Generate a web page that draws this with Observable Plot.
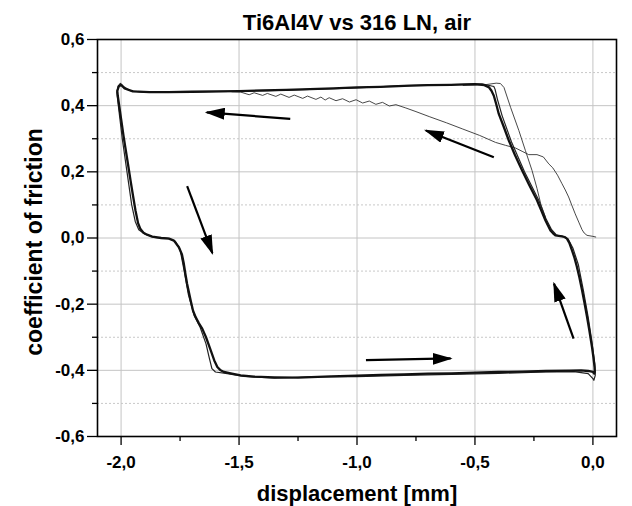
<!DOCTYPE html>
<html><head><meta charset="utf-8">
<script src="https://cdn.jsdelivr.net/npm/d3@7"></script>
<script src="https://cdn.jsdelivr.net/npm/@observablehq/plot@0.6"></script>
<style>body{margin:0;background:#fff}</style>
</head><body><div id="chart"></div>
<script>
const title = "Ti6Al4V vs 316 LN, air";
const xLabel = "displacement [mm]";
const yLabel = "coefficient of friction";
const xMajorTicks = [-2.0, -1.5, -1.0, -0.5, 0.0];
const xMinorTicks = [-1.75, -1.25, -0.75, -0.25];
const yMajorTicks = [-0.6, -0.4, -0.2, 0.0, 0.2, 0.4, 0.6];
const yMinorTicks = [-0.5, -0.3, -0.1, 0.1, 0.3, 0.5];
const yGridMajor = [-0.4, -0.2, 0.0, 0.2, 0.4];

// main hysteresis cycle (top → left → bottom → right)
const cycleMain = [
  [-0.44, 0.455], [-0.46, 0.462], [-0.5, 0.465], [-0.6, 0.463], [-0.7, 0.462], [-0.8, 0.46], [-0.9, 0.457],
  [-1.0, 0.455], [-1.1, 0.452], [-1.2, 0.45], [-1.3, 0.448], [-1.4, 0.446], [-1.5, 0.444], [-1.6, 0.443],
  [-1.7, 0.442], [-1.8, 0.441], [-1.88, 0.441], [-1.95, 0.443], [-1.985, 0.452], [-2.0, 0.463], [-2.01, 0.458], [-2.016, 0.445],
  [-2.014, 0.43], [-2.008, 0.4], [-2.0, 0.36], [-1.99, 0.31], [-1.982, 0.274], [-1.97, 0.22], [-1.96, 0.174],
  [-1.95, 0.13], [-1.939, 0.083], [-1.928, 0.045], [-1.918, 0.027], [-1.905, 0.016], [-1.89, 0.01], [-1.868, 0.004],
  [-1.83, 0.0], [-1.797, -0.002], [-1.776, -0.008], [-1.755, -0.028], [-1.742, -0.05], [-1.734, -0.078], [-1.727, -0.11],
  [-1.72, -0.139], [-1.705, -0.189], [-1.695, -0.22], [-1.684, -0.239], [-1.67, -0.258], [-1.656, -0.274], [-1.64, -0.3],
  [-1.62, -0.34], [-1.605, -0.37], [-1.592, -0.39], [-1.578, -0.4], [-1.564, -0.405], [-1.53, -0.41], [-1.493, -0.415],
  [-1.436, -0.419], [-1.35, -0.421], [-1.25, -0.422], [-1.11, -0.418], [-1.0, -0.416], [-0.9, -0.414], [-0.8, -0.412],
  [-0.7, -0.41], [-0.6, -0.409], [-0.5, -0.407], [-0.4, -0.405], [-0.3, -0.404], [-0.2, -0.402], [-0.1, -0.401],
  [-0.05, -0.4], [-0.02, -0.402], [0.0, -0.405], [0.006, -0.41], [0.008, -0.405],
  [0.007, -0.39], [0.002, -0.36], [-0.004, -0.329], [-0.015, -0.28], [-0.025, -0.238], [-0.036, -0.195], [-0.046, -0.158],
  [-0.057, -0.12], [-0.068, -0.087], [-0.078, -0.06], [-0.089, -0.037], [-0.1, -0.015], [-0.11, -0.002], [-0.12, 0.003],
  [-0.131, 0.005], [-0.159, 0.008], [-0.17, 0.015], [-0.18, 0.023], [-0.19, 0.037], [-0.201, 0.053], [-0.22, 0.085],
  [-0.237, 0.114], [-0.27, 0.16], [-0.3, 0.204], [-0.33, 0.25], [-0.356, 0.294], [-0.38, 0.34], [-0.399, 0.375],
  [-0.41, 0.405], [-0.42, 0.43], [-0.43, 0.445], [-0.44, 0.455]
];
// a neighbouring cycle of the bundle
const cycleB = [
  [-0.42, 0.458], [-0.47, 0.466], [-0.6, 0.464], [-0.8, 0.461], [-1.0, 0.454], [-1.2, 0.449], [-1.4, 0.445],
  [-1.6, 0.442], [-1.8, 0.44], [-1.9, 0.44], [-1.96, 0.445], [-1.99, 0.458], [-2.003, 0.467], [-2.012, 0.46], [-2.018, 0.44],
  [-2.01, 0.39], [-1.995, 0.3], [-1.975, 0.2], [-1.955, 0.1], [-1.94, 0.05], [-1.925, 0.025], [-1.9, 0.012], [-1.86, 0.002],
  [-1.8, -0.001], [-1.77, -0.01], [-1.75, -0.035], [-1.735, -0.09], [-1.715, -0.17], [-1.69, -0.235], [-1.665, -0.27],
  [-1.64, -0.32], [-1.627, -0.36], [-1.615, -0.395], [-1.6, -0.405], [-1.55, -0.41], [-1.48, -0.418],
  [-1.35, -0.424], [-1.2, -0.42], [-1.0, -0.419], [-0.8, -0.415], [-0.6, -0.412], [-0.4, -0.409], [-0.2, -0.405],
  [-0.08, -0.404], [-0.02, -0.41], [0.0, -0.425], [0.004, -0.43], [0.01, -0.415],
  [0.008, -0.38], [-0.005, -0.31], [-0.02, -0.24], [-0.04, -0.16], [-0.062, -0.08], [-0.085, -0.03], [-0.105, -0.003],
  [-0.125, 0.004], [-0.155, 0.009], [-0.175, 0.025], [-0.2, 0.06], [-0.23, 0.115], [-0.29, 0.2], [-0.345, 0.29],
  [-0.385, 0.37], [-0.405, 0.42], [-0.415, 0.45], [-0.42, 0.458]
];
// outer right branch of an early cycle
const outerBranch = [
  [-0.2, 0.06], [-0.22, 0.1], [-0.237, 0.15], [-0.258, 0.204], [-0.286, 0.264], [-0.314, 0.325], [-0.349, 0.395],
  [-0.377, 0.455], [-0.392, 0.467], [-0.41, 0.468], [-0.45, 0.464], [-0.55, 0.461]
];
// first run from the start position
const firstRun = [
  [0.012, 0.003], [0.0, 0.005], [-0.025, 0.008], [-0.037, 0.015], [-0.046, 0.025], [-0.06, 0.048], [-0.075, 0.073],
  [-0.09, 0.1], [-0.103, 0.124], [-0.117, 0.145], [-0.131, 0.164], [-0.15, 0.19], [-0.17, 0.212], [-0.187, 0.224],
  [-0.21, 0.245], [-0.237, 0.252], [-0.272, 0.252], [-0.3, 0.262], [-0.328, 0.272], [-0.37, 0.28], [-0.413, 0.289],
  [-0.48, 0.31], [-0.554, 0.33], [-0.62, 0.348], [-0.694, 0.367], [-0.75, 0.382], [-0.793, 0.393], [-0.835, 0.403],
  [-0.863, 0.399], [-0.892, 0.41], [-0.92, 0.404], [-0.948, 0.414], [-0.976, 0.408], [-1.004, 0.418], [-1.032, 0.411],
  [-1.061, 0.421], [-1.089, 0.415], [-1.118, 0.424], [-1.135, 0.417], [-1.153, 0.426], [-1.174, 0.419], [-1.21, 0.429],
  [-1.23, 0.422], [-1.266, 0.432], [-1.288, 0.425], [-1.323, 0.435], [-1.344, 0.428], [-1.38, 0.437], [-1.4, 0.431],
  [-1.436, 0.439], [-1.457, 0.433], [-1.493, 0.441], [-1.53, 0.442]
];
// direction arrows (tail → tip)
const arrowX1 = [-1.283, -0.42, -1.72, -0.962, -0.082];
const arrowY1 = [0.36, 0.244, 0.157, -0.369, -0.304];
const arrowX2 = [-1.637, -0.708, -1.613, -0.603, -0.165];
const arrowY2 = [0.38, 0.325, -0.046, -0.364, -0.138];

const W = 632, H = 506, mL = 97, mR = 16, mT = 39, mB = 70;
const innerW = W - mL - mR, innerH = H - mT - mB;
const fmt = d => d.toFixed(1).replace(".", ",");
const toRows = arr => arr.map(([x, y]) => ({x, y}));
const arrows = arrowX1.map((_, i) => ({x1: arrowX1[i], y1: arrowY1[i], x2: arrowX2[i], y2: arrowY2[i]}));

const svg = Plot.plot({
  width: W, height: H,
  marginLeft: mL, marginRight: mR, marginTop: mT, marginBottom: mB,
  style: {fontFamily: "'Liberation Sans', Arial, sans-serif", fontSize: "17px", fontWeight: "bold", background: "white", color: "black"},
  x: {domain: [-2.1, 0.1], ticks: xMajorTicks, tickFormat: fmt, tickSize: 0, tickPadding: 19, label: null},
  y: {domain: [-0.6, 0.6], ticks: yMajorTicks, tickFormat: fmt, tickSize: 0, tickPadding: 13, label: null},
  marks: [
    Plot.ruleY(yMinorTicks, {stroke: "#c8c8c8", strokeDasharray: "2,2"}),
    Plot.ruleX(xMajorTicks, {stroke: "#c4c4c4"}),
    Plot.ruleY(yGridMajor, {stroke: "#c4c4c4"}),
    Plot.line(toRows(firstRun), {x: "x", y: "y", stroke: "#333", strokeWidth: 0.9}),
    Plot.line(toRows(outerBranch), {x: "x", y: "y", stroke: "#333", strokeWidth: 0.9}),
    Plot.line(toRows(cycleB), {x: "x", y: "y", stroke: "#222", strokeWidth: 1.2}),
    Plot.line(toRows(cycleMain), {x: "x", y: "y", stroke: "#111", strokeWidth: 2.3}),
    Plot.link(arrows, {x1: "x1", y1: "y1", x2: "x2", y2: "y2", stroke: "black", strokeWidth: 2.2}),
    Plot.ruleX(xMajorTicks, {insetTop: innerH - 9, dy: 9, stroke: "black", strokeWidth: 1.3}),
    Plot.ruleX(xMinorTicks, {insetTop: innerH - 5, dy: 5, stroke: "black", strokeWidth: 1.3}),
    Plot.ruleY(yMajorTicks, {insetRight: innerW - 10, dx: -10, stroke: "black", strokeWidth: 1.3}),
    Plot.ruleY(yMinorTicks, {insetRight: innerW - 5, dx: -5, stroke: "black", strokeWidth: 1.3}),
    Plot.frame({stroke: "black", strokeWidth: 1.6}),
    Plot.text([title], {frameAnchor: "top", lineAnchor: "bottom", dy: -10, fontSize: 22, fontWeight: "bold"}),
    Plot.text([xLabel], {frameAnchor: "bottom", lineAnchor: "bottom", dy: 64, fontSize: 22, fontWeight: "bold"}),
    Plot.text([yLabel], {frameAnchor: "left", textAnchor: "middle", lineAnchor: "bottom", rotate: -90, dx: -56, dy: 4, fontSize: 23, fontWeight: "bold"})
  ]
});

// filled arrow heads
const ns = "http://www.w3.org/2000/svg";
const defs = document.createElementNS(ns, "defs");
const marker = document.createElementNS(ns, "marker");
marker.setAttribute("id", "arrowhead");
marker.setAttribute("markerUnits", "userSpaceOnUse");
marker.setAttribute("viewBox", "0 0 20 12");
marker.setAttribute("markerWidth", "20");
marker.setAttribute("markerHeight", "12");
marker.setAttribute("refX", "18");
marker.setAttribute("refY", "6");
marker.setAttribute("orient", "auto");
const head = document.createElementNS(ns, "path");
head.setAttribute("d", "M0,0L20,6L0,12Z");
head.setAttribute("fill", "black");
marker.appendChild(head);
defs.appendChild(marker);
svg.insertBefore(defs, svg.firstChild);
svg.querySelectorAll('g[aria-label="link"] path, g[aria-label="link"] line').forEach(p => p.setAttribute("marker-end", "url(#arrowhead)"));

document.getElementById("chart").appendChild(svg);
</script>
</body></html>
